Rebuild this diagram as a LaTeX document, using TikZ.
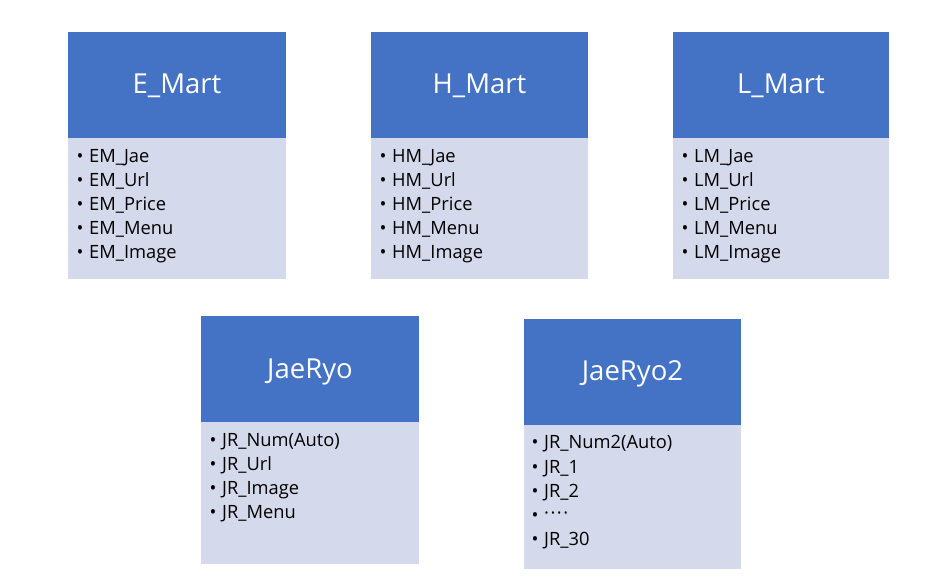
\documentclass[tikz,border=0pt]{standalone}
\usepackage{fontspec}
\setmainfont{Open Sans}
\definecolor{hdrblue}{HTML}{4472C4}
\definecolor{bodyblue}{HTML}{D4D9EB}
\tikzset{
  hdrbox/.style={fill=hdrblue},
  bodybox/.style={fill=bodyblue},
  titletext/.style={anchor=base,text=white,inner sep=0pt,font=\fontsize{27.5}{32}\selectfont},
  itemtext/.style={anchor=base west,inner sep=0pt,font=\fontsize{18.3}{22}\selectfont},
  bullettext/.style={anchor=base,inner sep=0pt,font=\fontsize{18.3}{22}\selectfont},
}
\newcommand{\tablebox}[8]{%
  % #1 name, #2 left, #3 top, #4 right, #5 header bottom, #6 body bottom, #7 title, #8 title baseline
  \fill[bodybox] (#2,#5) rectangle (#4,#6);
  \fill[hdrbox] (#2,#3) rectangle (#4,#5);
  \node[titletext] (#1title) at ({(#2+#4)/2},#8) {#7};
}
\newcommand{\itemrow}[4]{%
  % #1 name, #2 text x, #3 baseline, #4 text
  \node[bullettext] (#1b) at ({#2-9},#3) {•};
  \node[itemtext] (#1) at (#2,#3) {#4};
}
\begin{document}
\begin{tikzpicture}[x=1pt,y=-1pt]
\useasboundingbox (0,0) rectangle (943,581);
\fill[white] (0,0) rectangle (943,581);
\tablebox{em}{68}{32}{286}{138}{279}{E\_Mart}{93}
\tablebox{hm}{371}{32}{588}{138}{279}{H\_Mart}{93}
\tablebox{lm}{673}{32}{889}{138}{279}{L\_Mart}{93}
\tablebox{jr}{201}{316}{419}{422}{564}{JaeRyo}{378}
\tablebox{jrb}{524}{319}{741}{425}{569}{JaeRyo2}{380}
% E_Mart
\itemrow{em1}{89}{162}{EM\_Jae}
\itemrow{em2}{89}{186}{EM\_Url}
\itemrow{em3}{89}{210}{EM\_Price}
\itemrow{em4}{89}{234}{EM\_Menu}
\itemrow{em5}{89}{258}{EM\_Image}
% H_Mart
\itemrow{hm1}{392}{162}{HM\_Jae}
\itemrow{hm2}{392}{186}{HM\_Url}
\itemrow{hm3}{392}{210}{HM\_Price}
\itemrow{hm4}{392}{234}{HM\_Menu}
\itemrow{hm5}{392}{258}{HM\_Image}
% L_Mart
\itemrow{lm1}{694}{162}{LM\_Jae}
\itemrow{lm2}{694}{186}{LM\_Url}
\itemrow{lm3}{694}{210}{LM\_Price}
\itemrow{lm4}{694}{234}{LM\_Menu}
\itemrow{lm5}{694}{258}{LM\_Image}
% JaeRyo
\itemrow{jr1}{222}{446}{JR\_Num(Auto)}
\itemrow{jr2}{222}{470}{JR\_Url}
\itemrow{jr3}{222}{494}{JR\_Image}
\itemrow{jr4}{222}{518}{JR\_Menu}
% JaeRyo2
\itemrow{jrb1}{544}{448}{JR\_Num2(Auto)}
\itemrow{jrb2}{544}{473}{JR\_1}
\itemrow{jrb3}{544}{497}{JR\_2}
\itemrow{jrb4}{544}{521}{\raisebox{2pt}{·\hspace{1.5pt}·\hspace{1.5pt}·\hspace{1.5pt}·}}
\itemrow{jrb5}{544}{545}{JR\_30}
\end{tikzpicture}
\end{document}
